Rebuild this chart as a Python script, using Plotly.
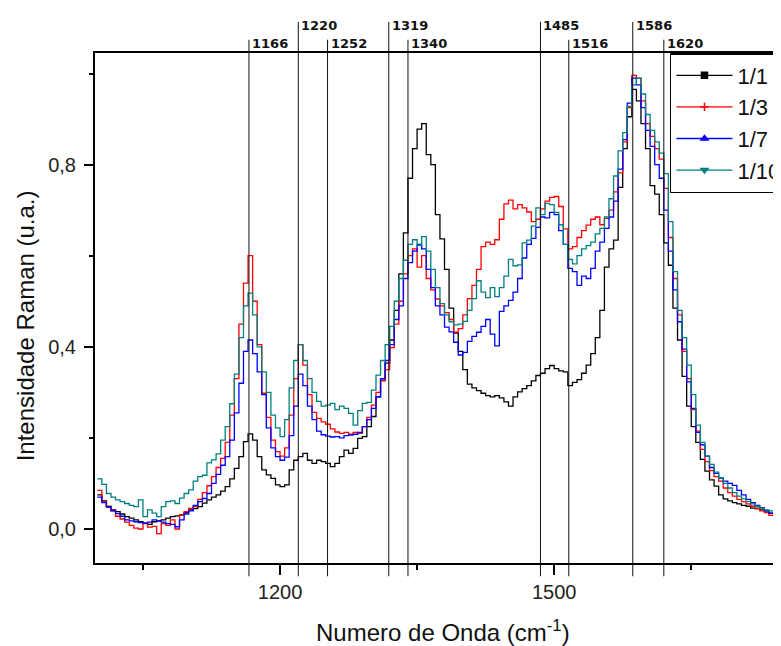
import plotly.graph_objects as go

# ---------------- data ----------------
wavenumber = list(range(1000, 1755, 5))  # cm^-1 grid

ratio_1_1 = [
    0.075, 0.062, 0.048, 0.042, 0.038, 0.033, 0.027, 0.024, 0.020, 0.016,
    0.013, 0.010, 0.016, 0.018, 0.020, 0.024, 0.027, 0.029, 0.031, 0.036,
    0.042, 0.045, 0.049, 0.057, 0.064, 0.070, 0.075, 0.083, 0.093, 0.110,
    0.133, 0.159, 0.192, 0.209, 0.195, 0.159, 0.130, 0.119, 0.111, 0.097,
    0.093, 0.097, 0.130, 0.151, 0.159, 0.166, 0.151, 0.144, 0.151, 0.148,
    0.144, 0.137, 0.144, 0.159, 0.173, 0.166, 0.177, 0.199, 0.203, 0.225,
    0.247, 0.290, 0.327, 0.364, 0.415, 0.480, 0.560, 0.650, 0.770, 0.835,
    0.878, 0.890, 0.822, 0.800, 0.690, 0.637, 0.570, 0.485, 0.430, 0.390,
    0.350, 0.318, 0.310, 0.304, 0.298, 0.293, 0.290, 0.293, 0.288, 0.279,
    0.270, 0.290, 0.301, 0.308, 0.315, 0.325, 0.337, 0.342, 0.352, 0.359,
    0.352, 0.347, 0.345, 0.315, 0.322, 0.328, 0.342, 0.360, 0.385, 0.420,
    0.480, 0.575, 0.615, 0.634, 0.750, 0.835, 0.905, 0.965, 0.940, 0.890,
    0.835, 0.754, 0.735, 0.690, 0.628, 0.579, 0.485, 0.415, 0.335, 0.270,
    0.225, 0.190, 0.153, 0.127, 0.108, 0.094, 0.075, 0.066, 0.062, 0.058,
    0.055, 0.052, 0.050, 0.046, 0.045, 0.042, 0.040, 0.035, 0.033, 0.030,
    0.029,
]

ratio_1_3 = [
    0.085, 0.060, 0.050, 0.040, 0.028, 0.022, 0.015, 0.008, 0.002, 0.000,
    0.012, 0.004, 0.006, -0.010, 0.012, 0.008, 0.020, 0.000, 0.030, 0.038,
    0.045, 0.050, 0.065, 0.080, 0.095, 0.115, 0.135, 0.155, 0.190, 0.250,
    0.330, 0.450, 0.540, 0.600, 0.500, 0.405, 0.298, 0.245, 0.195, 0.170,
    0.160, 0.178, 0.250, 0.330, 0.405, 0.360, 0.295, 0.256, 0.243, 0.235,
    0.230, 0.220, 0.213, 0.210, 0.212, 0.208, 0.212, 0.210, 0.225, 0.245,
    0.272, 0.300, 0.325, 0.350, 0.398, 0.450, 0.500, 0.560, 0.600, 0.615,
    0.575, 0.600, 0.550, 0.525, 0.505, 0.490, 0.475, 0.460, 0.432, 0.440,
    0.470, 0.506, 0.535, 0.570, 0.620, 0.630, 0.625, 0.635, 0.680, 0.714,
    0.722, 0.703, 0.712, 0.705, 0.696, 0.675, 0.680, 0.703, 0.720, 0.728,
    0.730, 0.708, 0.659, 0.615, 0.620, 0.640, 0.655, 0.667, 0.680, 0.685,
    0.668, 0.682, 0.700, 0.740, 0.782, 0.850, 0.925, 0.996, 0.990, 0.940,
    0.890, 0.862, 0.835, 0.812, 0.748, 0.640, 0.550, 0.470, 0.390, 0.330,
    0.262, 0.215, 0.175, 0.148, 0.128, 0.115, 0.105, 0.090, 0.080, 0.072,
    0.065, 0.060, 0.055, 0.050, 0.045, 0.040, 0.036, 0.030, 0.032, 0.025,
    0.024,
]

ratio_1_7 = [
    0.070, 0.058, 0.049, 0.040, 0.034, 0.028, 0.020, 0.018, 0.016, 0.014,
    0.013, 0.015, 0.020, 0.018, 0.015, 0.012, 0.010, 0.005, 0.020, 0.033,
    0.040, 0.052, 0.060, 0.067, 0.078, 0.100, 0.120, 0.140, 0.159, 0.195,
    0.255, 0.320, 0.390, 0.415, 0.385, 0.345, 0.295, 0.222, 0.178, 0.159,
    0.151, 0.158, 0.205, 0.270, 0.340, 0.315, 0.270, 0.240, 0.215, 0.207,
    0.204, 0.202, 0.203, 0.200, 0.205, 0.206, 0.208, 0.212, 0.225, 0.240,
    0.265, 0.290, 0.330, 0.370, 0.405, 0.460, 0.490, 0.550, 0.585, 0.610,
    0.625, 0.615, 0.570, 0.530, 0.490, 0.470, 0.443, 0.433, 0.410, 0.382,
    0.388, 0.412, 0.423, 0.432, 0.445, 0.460, 0.428, 0.402, 0.478, 0.490,
    0.502, 0.520, 0.550, 0.595, 0.625, 0.638, 0.662, 0.685, 0.683, 0.695,
    0.690, 0.655, 0.625, 0.572, 0.565, 0.535, 0.555, 0.550, 0.572, 0.610,
    0.630, 0.660, 0.685, 0.720, 0.790, 0.855, 0.935, 0.990, 0.975, 0.925,
    0.875, 0.840, 0.800, 0.770, 0.700, 0.610, 0.525, 0.455, 0.395, 0.323,
    0.265, 0.212, 0.185, 0.160, 0.135, 0.122, 0.112, 0.105, 0.100, 0.096,
    0.085, 0.075, 0.065, 0.058, 0.052, 0.047, 0.040, 0.035, 0.033, 0.030,
    0.030,
]

ratio_1_10 = [
    0.110, 0.098, 0.078, 0.070, 0.064, 0.060, 0.056, 0.052, 0.049, 0.064,
    0.027, 0.042, 0.035, 0.027, 0.049, 0.060, 0.062, 0.056, 0.068, 0.078,
    0.086, 0.105, 0.115, 0.118, 0.145, 0.152, 0.165, 0.195, 0.225, 0.275,
    0.340, 0.420, 0.490, 0.518, 0.470, 0.400, 0.345, 0.300, 0.250, 0.222,
    0.203, 0.240, 0.310, 0.370, 0.405, 0.370, 0.330, 0.300, 0.280, 0.270,
    0.272, 0.276, 0.262, 0.270, 0.265, 0.254, 0.228, 0.260, 0.276, 0.278,
    0.305, 0.338, 0.370, 0.405, 0.445, 0.500, 0.550, 0.590, 0.625, 0.635,
    0.623, 0.642, 0.610, 0.570, 0.530, 0.495, 0.470, 0.455, 0.448, 0.450,
    0.456, 0.480, 0.506, 0.545, 0.520, 0.508, 0.530, 0.510, 0.530, 0.555,
    0.592, 0.578, 0.580, 0.628, 0.634, 0.665, 0.705, 0.690, 0.715, 0.712,
    0.695, 0.668, 0.625, 0.592, 0.582, 0.600, 0.615, 0.622, 0.630, 0.648,
    0.660, 0.685, 0.725, 0.775, 0.830, 0.870, 0.928, 0.975, 0.990, 0.955,
    0.910, 0.875, 0.850, 0.825, 0.780, 0.675, 0.565, 0.480, 0.420, 0.360,
    0.295, 0.228, 0.190, 0.160, 0.142, 0.125, 0.112, 0.100, 0.090, 0.080,
    0.072, 0.066, 0.060, 0.055, 0.050, 0.046, 0.042, 0.040, 0.038, 0.036,
    0.035,
]

series_names = ["1/1", "1/3", "1/7", "1/10"]
series_values = [ratio_1_1, ratio_1_3, ratio_1_7, ratio_1_10]
series_colors = ["#000000", "#FF0000", "#0000FF", "#008080"]
series_symbols = ["square", "cross-thin", "triangle-up", "triangle-down"]

peak_labels = [1166, 1220, 1252, 1319, 1340, 1485, 1516, 1586, 1620]
peak_upper_row = [False, True, False, True, False, True, False, True, False]

x_ticks = [1200, 1500]
y_ticks = [0.0, 0.4, 0.8]

# ---------------- figure ----------------
FONT = "Liberation Sans, Arial, sans-serif"
fig = go.Figure()

for name, vals, col in zip(series_names, series_values, series_colors):
    fig.add_trace(go.Scatter(
        x=wavenumber, y=vals, mode="lines", name=name,
        line=dict(color=col, width=1.3, shape="hv"),
        showlegend=False, hoverinfo="skip"))

# legend entries (line with symbol)
for name, col, sym in zip(series_names, series_colors, series_symbols):
    fig.add_trace(go.Scatter(
        x=[None], y=[None], mode="lines+markers", name=name,
        line=dict(color=col, width=1.3),
        marker=dict(symbol=sym, size=6, color=col,
                    line=dict(color=col, width=1.5))))

shapes = []
annotations = []
for pos, upper in zip(peak_labels, peak_upper_row):
    top = 1.061 if upper else 1.026
    shapes.append(dict(type="line", xref="x", yref="paper",
                       x0=pos, x1=pos, y0=-0.026, y1=top,
                       line=dict(color="#111111", width=1), layer="above"))
    annotations.append(dict(
        x=pos, y=(1.054 if upper else 1.019), xref="x", yref="paper",
        text=str(pos), showarrow=False, xanchor="left", yanchor="middle",
        xshift=1, font=dict(family="DejaVu Sans, sans-serif", size=13,
                            color="#111111", weight="bold")))

annotations.append(dict(
    x=0.501, y=-0.134, xref="paper", yref="paper",
    text="Numero de Onda (cm<sup>-1</sup>)", showarrow=False,
    xanchor="center", yanchor="middle",
    font=dict(family=FONT, size=24, color="#111111")))
annotations.append(dict(
    x=-0.1009, y=0.466, xref="paper", yref="paper",
    text="Intensidade Raman (u.a.)", showarrow=False, textangle=-90,
    xanchor="center", yanchor="middle",
    font=dict(family=FONT, size=24, color="#111111")))

fig.update_layout(
    width=781, height=646,
    margin=dict(l=87, r=0, t=45, b=91),
    plot_bgcolor="white", paper_bgcolor="white",
    separators=",.",
    shapes=shapes, annotations=annotations,
    showlegend=True,
    legend=dict(x=0.8285, y=1.0, xanchor="left", yanchor="top",
                bgcolor="white", bordercolor="black", borderwidth=1.5,
                font=dict(family=FONT, size=22, color="#111111"),
                itemwidth=56, tracegroupgap=0),
    xaxis=dict(range=[997.5, 1757.0], showline=True, linecolor="black",
               linewidth=2, mirror=True, ticks="outside", ticklen=10,
               tickwidth=2, tickcolor="black", tickvals=x_ticks,
               ticktext=[str(v) for v in x_ticks], automargin=False,
               minor=dict(ticks="outside", ticklen=5, tickwidth=2,
                          tickcolor="black", tick0=1050, dtick=150),
               showgrid=False, zeroline=False,
               tickfont=dict(family=FONT, size=20, color="#222222")),
    yaxis=dict(range=[-0.0746, 1.045], showline=True, linecolor="black",
               linewidth=2, mirror=False, ticks="outside", ticklen=9,
               tickwidth=2, tickcolor="black", tickvals=y_ticks,
               ticktext=[f"{v:.1f}".replace(".", ",") for v in y_ticks],
               automargin=False,
               minor=dict(ticks="outside", ticklen=4, tickwidth=2,
                          tickcolor="black", tick0=0, dtick=0.2),
               showgrid=False, zeroline=False, ticklabelstandoff=4,
               tickfont=dict(family=FONT, size=20, color="#222222")),
)

fig.write_html("out.html")
